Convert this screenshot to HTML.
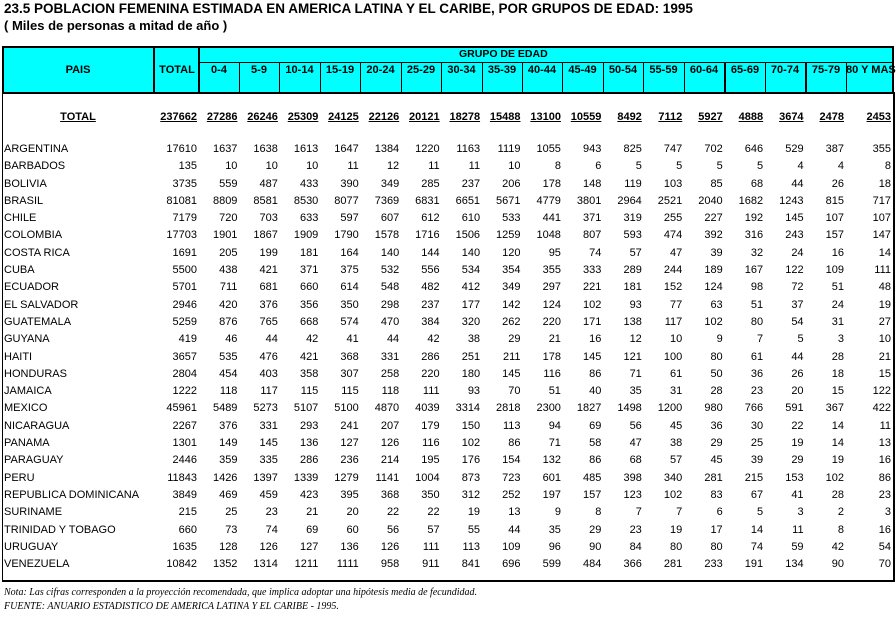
<!DOCTYPE html>
<html><head><meta charset="utf-8"><style>
body{margin:0;width:896px;height:619px;background:#fff;position:relative;overflow:hidden;font-family:"Liberation Sans",Arial,sans-serif;color:#000}
.a{position:absolute}
.t1{left:4px;top:1px;font-size:13.5px;font-weight:bold;white-space:nowrap}
.t2{left:4px;top:18px;font-size:13px;font-weight:bold;white-space:nowrap}
.hdr{left:2px;top:46px;width:888px;height:44px;background:#00ffff;border:2px solid #000}
.vl{position:absolute;background:#000;width:1px}
.hl{position:absolute;background:#000;height:1px}
.hb{position:absolute;font-size:11px;font-weight:bold;text-align:center;white-space:nowrap}
table{position:absolute;left:2px;top:109px;border-collapse:collapse;table-layout:fixed;font-size:11px}
td{padding:0 2px 0 0;height:17.3px;line-height:17.3px;text-align:right;white-space:nowrap;overflow:visible}
td:first-child{text-align:left;padding-left:2px}
tr.tot td{font-weight:bold;text-decoration:underline;height:16px;line-height:16px}
tr.tot td:first-child{text-align:center}
tr.gap td{height:16px}
.note{left:4px;font-family:"Liberation Serif",serif;font-style:italic;font-size:10px;white-space:nowrap}
</style></head><body>
<div class="a t1">23.5 POBLACION FEMENINA ESTIMADA EN AMERICA LATINA Y EL CARIBE, POR GRUPOS DE EDAD: 1995</div>
<div class="a t2">( Miles de personas a mitad de año )</div>
<div class="a hdr"></div>
<div class="vl" style="left:2px;top:92px;height:490px;width:1px"></div>
<div class="vl" style="left:893px;top:92px;height:490px;width:2px"></div>
<div class="hl" style="left:2px;top:580px;width:893px;height:2px"></div>
<div class="hl" style="left:199px;top:62px;width:694px"></div>
<div class="vl" style="left:153px;top:46px;height:46px;width:2px"></div>
<div class="vl" style="left:198px;top:46px;height:46px;width:2px"></div>
<div class="vl" style="left:239px;top:62px;height:30px"></div>
<div class="vl" style="left:279px;top:62px;height:30px"></div>
<div class="vl" style="left:320px;top:62px;height:30px"></div>
<div class="vl" style="left:360px;top:62px;height:30px"></div>
<div class="vl" style="left:401px;top:62px;height:30px"></div>
<div class="vl" style="left:441px;top:62px;height:30px"></div>
<div class="vl" style="left:482px;top:62px;height:30px"></div>
<div class="vl" style="left:522px;top:62px;height:30px"></div>
<div class="vl" style="left:562px;top:62px;height:30px"></div>
<div class="vl" style="left:603px;top:62px;height:30px"></div>
<div class="vl" style="left:643px;top:62px;height:30px"></div>
<div class="vl" style="left:684px;top:62px;height:30px"></div>
<div class="vl" style="left:724px;top:62px;height:30px;width:2px"></div>
<div class="vl" style="left:765px;top:62px;height:30px"></div>
<div class="vl" style="left:805px;top:62px;height:30px;width:2px"></div>
<div class="vl" style="left:846px;top:62px;height:30px"></div>
<div class="hb" style="left:2px;top:64px;width:152px">PAIS</div>
<div class="hb" style="left:155px;top:64px;width:44px">TOTAL</div>
<div class="hb" style="left:459px;top:48px;font-size:10.5px">GRUPO DE EDAD</div>
<div class="hb" style="left:199px;top:64px;width:40px">0-4</div>
<div class="hb" style="left:239px;top:64px;width:40px">5-9</div>
<div class="hb" style="left:279px;top:64px;width:41px">10-14</div>
<div class="hb" style="left:320px;top:64px;width:40px">15-19</div>
<div class="hb" style="left:360px;top:64px;width:41px">20-24</div>
<div class="hb" style="left:401px;top:64px;width:40px">25-29</div>
<div class="hb" style="left:441px;top:64px;width:41px">30-34</div>
<div class="hb" style="left:482px;top:64px;width:40px">35-39</div>
<div class="hb" style="left:522px;top:64px;width:40px">40-44</div>
<div class="hb" style="left:562px;top:64px;width:41px">45-49</div>
<div class="hb" style="left:603px;top:64px;width:40px">50-54</div>
<div class="hb" style="left:643px;top:64px;width:41px">55-59</div>
<div class="hb" style="left:684px;top:64px;width:40px">60-64</div>
<div class="hb" style="left:725px;top:64px;width:40px">65-69</div>
<div class="hb" style="left:765px;top:64px;width:40px">70-74</div>
<div class="hb" style="left:806px;top:64px;width:40px">75-79</div>
<div class="hb" style="left:846px;top:64px;width:48px">80 Y MAS</div>

<table>
<colgroup><col style="width:152px"><col style="width:45px"><col span="16" style="width:40.44px"><col style="width:47px"></colgroup>
<tr class="tot"><td>TOTAL</td><td>237662</td><td>27286</td><td>26246</td><td>25309</td><td>24125</td><td>22126</td><td>20121</td><td>18278</td><td>15488</td><td>13100</td><td>10559</td><td>8492</td><td>7112</td><td>5927</td><td>4888</td><td>3674</td><td>2478</td><td>2453</td></tr>
<tr class="gap"><td></td></tr>
<tr><td>ARGENTINA</td><td>17610</td><td>1637</td><td>1638</td><td>1613</td><td>1647</td><td>1384</td><td>1220</td><td>1163</td><td>1119</td><td>1055</td><td>943</td><td>825</td><td>747</td><td>702</td><td>646</td><td>529</td><td>387</td><td>355</td></tr>
<tr><td>BARBADOS</td><td>135</td><td>10</td><td>10</td><td>10</td><td>11</td><td>12</td><td>11</td><td>11</td><td>10</td><td>8</td><td>6</td><td>5</td><td>5</td><td>5</td><td>5</td><td>4</td><td>4</td><td>8</td></tr>
<tr><td>BOLIVIA</td><td>3735</td><td>559</td><td>487</td><td>433</td><td>390</td><td>349</td><td>285</td><td>237</td><td>206</td><td>178</td><td>148</td><td>119</td><td>103</td><td>85</td><td>68</td><td>44</td><td>26</td><td>18</td></tr>
<tr><td>BRASIL</td><td>81081</td><td>8809</td><td>8581</td><td>8530</td><td>8077</td><td>7369</td><td>6831</td><td>6651</td><td>5671</td><td>4779</td><td>3801</td><td>2964</td><td>2521</td><td>2040</td><td>1682</td><td>1243</td><td>815</td><td>717</td></tr>
<tr><td>CHILE</td><td>7179</td><td>720</td><td>703</td><td>633</td><td>597</td><td>607</td><td>612</td><td>610</td><td>533</td><td>441</td><td>371</td><td>319</td><td>255</td><td>227</td><td>192</td><td>145</td><td>107</td><td>107</td></tr>
<tr><td>COLOMBIA</td><td>17703</td><td>1901</td><td>1867</td><td>1909</td><td>1790</td><td>1578</td><td>1716</td><td>1506</td><td>1259</td><td>1048</td><td>807</td><td>593</td><td>474</td><td>392</td><td>316</td><td>243</td><td>157</td><td>147</td></tr>
<tr><td>COSTA RICA</td><td>1691</td><td>205</td><td>199</td><td>181</td><td>164</td><td>140</td><td>144</td><td>140</td><td>120</td><td>95</td><td>74</td><td>57</td><td>47</td><td>39</td><td>32</td><td>24</td><td>16</td><td>14</td></tr>
<tr><td>CUBA</td><td>5500</td><td>438</td><td>421</td><td>371</td><td>375</td><td>532</td><td>556</td><td>534</td><td>354</td><td>355</td><td>333</td><td>289</td><td>244</td><td>189</td><td>167</td><td>122</td><td>109</td><td>111</td></tr>
<tr><td>ECUADOR</td><td>5701</td><td>711</td><td>681</td><td>660</td><td>614</td><td>548</td><td>482</td><td>412</td><td>349</td><td>297</td><td>221</td><td>181</td><td>152</td><td>124</td><td>98</td><td>72</td><td>51</td><td>48</td></tr>
<tr><td>EL SALVADOR</td><td>2946</td><td>420</td><td>376</td><td>356</td><td>350</td><td>298</td><td>237</td><td>177</td><td>142</td><td>124</td><td>102</td><td>93</td><td>77</td><td>63</td><td>51</td><td>37</td><td>24</td><td>19</td></tr>
<tr><td>GUATEMALA</td><td>5259</td><td>876</td><td>765</td><td>668</td><td>574</td><td>470</td><td>384</td><td>320</td><td>262</td><td>220</td><td>171</td><td>138</td><td>117</td><td>102</td><td>80</td><td>54</td><td>31</td><td>27</td></tr>
<tr><td>GUYANA</td><td>419</td><td>46</td><td>44</td><td>42</td><td>41</td><td>44</td><td>42</td><td>38</td><td>29</td><td>21</td><td>16</td><td>12</td><td>10</td><td>9</td><td>7</td><td>5</td><td>3</td><td>10</td></tr>
<tr><td>HAITI</td><td>3657</td><td>535</td><td>476</td><td>421</td><td>368</td><td>331</td><td>286</td><td>251</td><td>211</td><td>178</td><td>145</td><td>121</td><td>100</td><td>80</td><td>61</td><td>44</td><td>28</td><td>21</td></tr>
<tr><td>HONDURAS</td><td>2804</td><td>454</td><td>403</td><td>358</td><td>307</td><td>258</td><td>220</td><td>180</td><td>145</td><td>116</td><td>86</td><td>71</td><td>61</td><td>50</td><td>36</td><td>26</td><td>18</td><td>15</td></tr>
<tr><td>JAMAICA</td><td>1222</td><td>118</td><td>117</td><td>115</td><td>115</td><td>118</td><td>111</td><td>93</td><td>70</td><td>51</td><td>40</td><td>35</td><td>31</td><td>28</td><td>23</td><td>20</td><td>15</td><td>122</td></tr>
<tr><td>MEXICO</td><td>45961</td><td>5489</td><td>5273</td><td>5107</td><td>5100</td><td>4870</td><td>4039</td><td>3314</td><td>2818</td><td>2300</td><td>1827</td><td>1498</td><td>1200</td><td>980</td><td>766</td><td>591</td><td>367</td><td>422</td></tr>
<tr><td>NICARAGUA</td><td>2267</td><td>376</td><td>331</td><td>293</td><td>241</td><td>207</td><td>179</td><td>150</td><td>113</td><td>94</td><td>69</td><td>56</td><td>45</td><td>36</td><td>30</td><td>22</td><td>14</td><td>11</td></tr>
<tr><td>PANAMA</td><td>1301</td><td>149</td><td>145</td><td>136</td><td>127</td><td>126</td><td>116</td><td>102</td><td>86</td><td>71</td><td>58</td><td>47</td><td>38</td><td>29</td><td>25</td><td>19</td><td>14</td><td>13</td></tr>
<tr><td>PARAGUAY</td><td>2446</td><td>359</td><td>335</td><td>286</td><td>236</td><td>214</td><td>195</td><td>176</td><td>154</td><td>132</td><td>86</td><td>68</td><td>57</td><td>45</td><td>39</td><td>29</td><td>19</td><td>16</td></tr>
<tr><td>PERU</td><td>11843</td><td>1426</td><td>1397</td><td>1339</td><td>1279</td><td>1141</td><td>1004</td><td>873</td><td>723</td><td>601</td><td>485</td><td>398</td><td>340</td><td>281</td><td>215</td><td>153</td><td>102</td><td>86</td></tr>
<tr><td>REPUBLICA DOMINICANA</td><td>3849</td><td>469</td><td>459</td><td>423</td><td>395</td><td>368</td><td>350</td><td>312</td><td>252</td><td>197</td><td>157</td><td>123</td><td>102</td><td>83</td><td>67</td><td>41</td><td>28</td><td>23</td></tr>
<tr><td>SURINAME</td><td>215</td><td>25</td><td>23</td><td>21</td><td>20</td><td>22</td><td>22</td><td>19</td><td>13</td><td>9</td><td>8</td><td>7</td><td>7</td><td>6</td><td>5</td><td>3</td><td>2</td><td>3</td></tr>
<tr><td>TRINIDAD Y TOBAGO</td><td>660</td><td>73</td><td>74</td><td>69</td><td>60</td><td>56</td><td>57</td><td>55</td><td>44</td><td>35</td><td>29</td><td>23</td><td>19</td><td>17</td><td>14</td><td>11</td><td>8</td><td>16</td></tr>
<tr><td>URUGUAY</td><td>1635</td><td>128</td><td>126</td><td>127</td><td>136</td><td>126</td><td>111</td><td>113</td><td>109</td><td>96</td><td>90</td><td>84</td><td>80</td><td>80</td><td>74</td><td>59</td><td>42</td><td>54</td></tr>
<tr><td>VENEZUELA</td><td>10842</td><td>1352</td><td>1314</td><td>1211</td><td>1111</td><td>958</td><td>911</td><td>841</td><td>696</td><td>599</td><td>484</td><td>366</td><td>281</td><td>233</td><td>191</td><td>134</td><td>90</td><td>70</td></tr>
</table>
<div class="a note" style="top:587px">Nota: Las cifras corresponden a la proyección recomendada, que implica adoptar una hipótesis media de fecundidad.</div>
<div class="a note" style="top:601px">FUENTE: ANUARIO ESTADISTICO DE AMERICA LATINA Y EL CARIBE - 1995.</div>
</body></html>
